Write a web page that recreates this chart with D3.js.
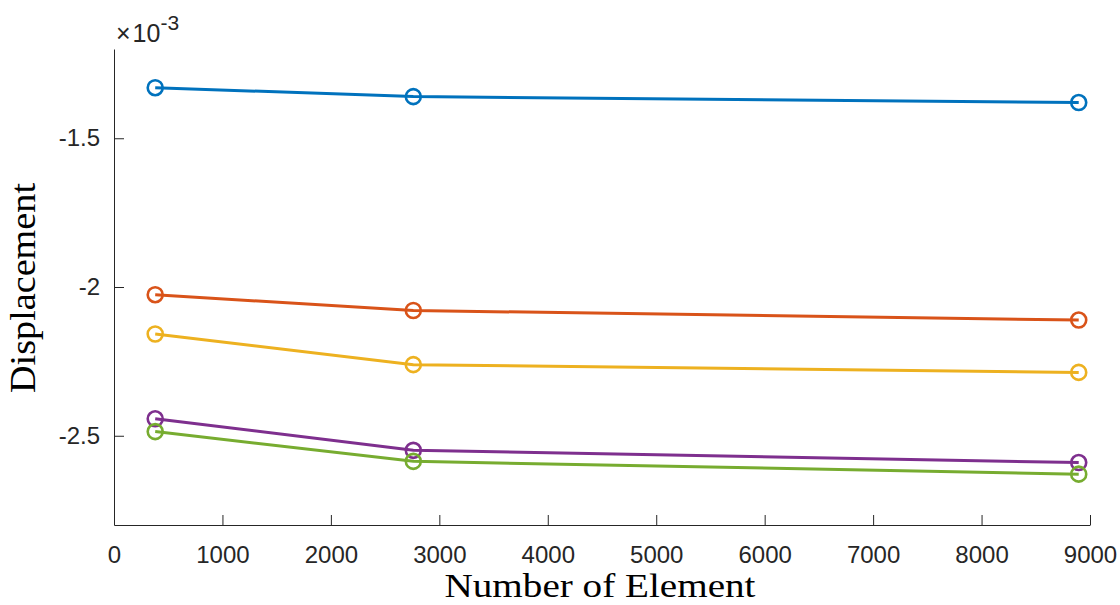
<!DOCTYPE html>
<html>
<head>
<meta charset="utf-8">
<script src="https://cdn.jsdelivr.net/npm/d3@7"></script>
<style>
  body { margin: 0; background: #fff; }
  svg { display: block; }
  .tick text { font-family: "Liberation Sans", Arial, sans-serif; font-size: 24px; fill: #262626; }
  .domain, .tick line { stroke: #262626; stroke-width: 1; }
</style>
</head>
<body>
<script>
// number of elements
var elements = [380, 2760, 8896];
// displacement (x 10^-3)
var series1 = [-1.330, -1.360, -1.380];
var series2 = [-2.026, -2.079, -2.111];
var series3 = [-2.158, -2.261, -2.287];
var series4 = [-2.443, -2.549, -2.590];
var series5 = [-2.486, -2.586, -2.629];
var allSeries = [series1, series2, series3, series4, series5];
var colors = ["#0072BD", "#D95319", "#EDB120", "#7E2F8E", "#77AC30"];

var xTicks = [0, 1000, 2000, 3000, 4000, 5000, 6000, 7000, 8000, 9000];
var yTicks = [-2.5, -2, -1.5];

var W = 1120, H = 605;
var mLeft = 114, mRight = 1090, mTop = 49, mBottom = 525;

var x = d3.scaleLinear().domain([0, 9000]).range([mLeft, mRight]);
var y = d3.scaleLinear().domain([-2.8, -1.2]).range([mBottom, mTop]);

var svg = d3.select("body").append("svg").attr("width", W).attr("height", H);

var xAxis = d3.axisBottom(x).tickValues(xTicks).tickSizeInner(-10).tickSizeOuter(0).tickPadding(21)
      .tickFormat(function (d) { return d; });
var yAxis = d3.axisLeft(y).tickValues(yTicks).tickSizeInner(-10).tickSizeOuter(0).tickPadding(14)
      .tickFormat(function (d) { return d; });

svg.append("g")
      .attr("transform", "translate(0," + mBottom + ")")
      .call(xAxis);

svg.append("g")
      .attr("transform", "translate(" + mLeft + ",0)")
      .call(yAxis);

var line = d3.line()
      .x(function (d, i) { return x(elements[i]); })
      .y(function (d) { return y(d); });

allSeries.forEach(function (s, k) {
  var g = svg.append("g");
  g.append("path")
        .attr("d", line(s))
        .attr("fill", "none")
        .attr("stroke", colors[k])
        .attr("stroke-width", 3);
  g.selectAll("circle")
        .data(s)
        .enter().append("circle")
        .attr("cx", function (d, i) { return x(elements[i]); })
        .attr("cy", function (d) { return y(d); })
        .attr("r", 7.5)
        .attr("fill", "none")
        .attr("stroke", colors[k])
        .attr("stroke-width", 2.6);
});

// exponent label
var ex = svg.append("text")
      .attr("x", mLeft + 2)
      .attr("y", 42)
      .attr("font-family", "Liberation Sans, Arial, sans-serif")
      .attr("font-size", 25)
      .attr("fill", "#262626");
ex.append("tspan").text("\u00d7");
ex.append("tspan").attr("dx", 2).text("10");
ex.append("tspan").attr("dy", -12).attr("font-size", 21).text("-3");

// axis labels
svg.append("text")
      .attr("x", 600)
      .attr("y", 597)
      .attr("text-anchor", "middle")
      .attr("font-family", "Liberation Serif, serif")
      .attr("font-size", 34)
      .attr("textLength", 311)
      .attr("lengthAdjust", "spacingAndGlyphs")
      .attr("fill", "#000")
      .text("Number of Element");

svg.append("text")
      .attr("transform", "translate(35,288) rotate(-90)")
      .attr("text-anchor", "middle")
      .attr("font-family", "Liberation Serif, serif")
      .attr("font-size", 35)
      .attr("textLength", 210)
      .attr("lengthAdjust", "spacingAndGlyphs")
      .attr("fill", "#000")
      .text("Displacement");
</script>
</body>
</html>
